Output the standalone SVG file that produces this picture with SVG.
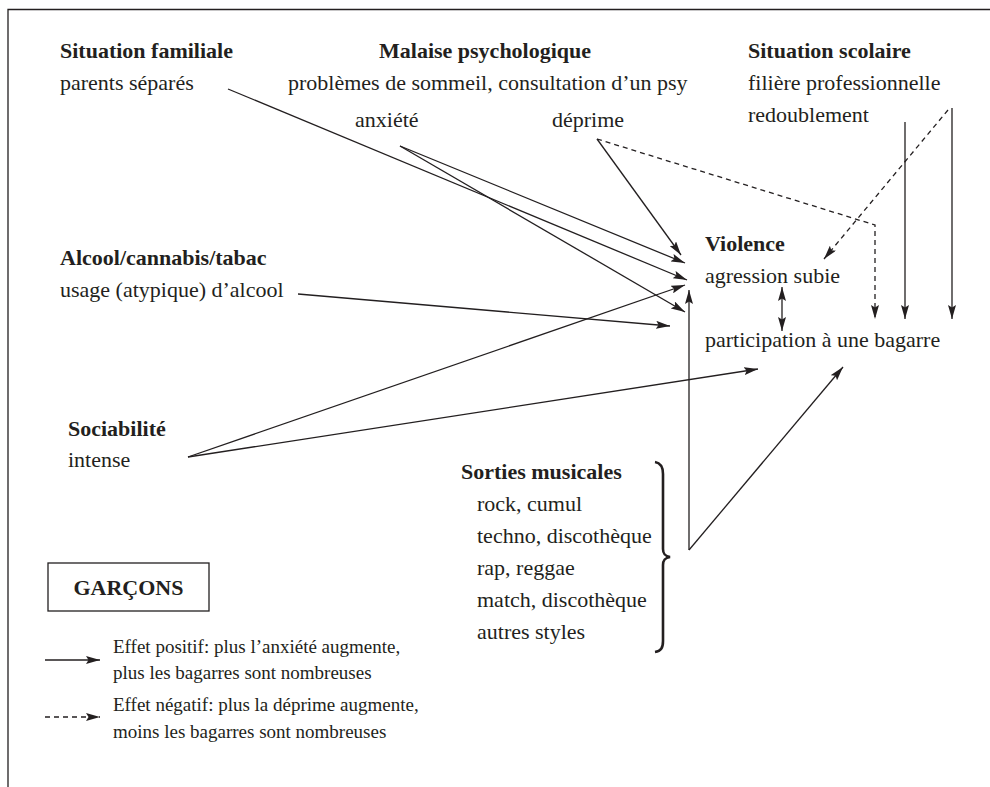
<svg xmlns="http://www.w3.org/2000/svg" width="990" height="787" viewBox="0 0 990 787">
<style>
text{font-size:22px;fill:#231f20}
.b{font-weight:bold}
.s{font-size:19px}
.ln{fill:none;stroke:#231f20;stroke-width:1.3}
.d{stroke-dasharray:5 4}
.ah{marker-end:url(#arr)}
</style>
<defs>
<marker id="arr" viewBox="0 0 14 8" refX="14" refY="4" markerWidth="14" markerHeight="8" markerUnits="userSpaceOnUse" orient="auto-start-reverse">
<path d="M0,0 L14,4 L0,8 L2.5,4 z" fill="#231f20"/>
</marker>
</defs>
<rect width="990" height="787" fill="#fff"/>
<g id="frame"><path class="ln" d="M8,787 L8,9.5 L990,9.5"/></g>

<g font-family="Liberation Serif, DejaVu Serif, serif">
<g id="familiale">
<text class="b" x="60" y="58">Situation familiale</text>
<text x="60" y="90">parents séparés</text>
</g>
<g id="malaise">
<text class="b" x="379" y="58">Malaise psychologique</text>
<text x="288" y="90">problèmes de sommeil, consultation d’un psy</text>
<text x="355" y="127">anxiété</text>
<text x="552" y="127">déprime</text>
</g>
<g id="scolaire">
<text class="b" x="748" y="58">Situation scolaire</text>
<text x="748" y="90">filière professionnelle</text>
<text x="748" y="122">redoublement</text>
</g>
<g id="alcool">
<text class="b" x="60" y="265">Alcool/cannabis/tabac</text>
<text x="60" y="297">usage (atypique) d’alcool</text>
</g>
<g id="sociabilite">
<text class="b" x="68" y="436">Sociabilité</text>
<text x="68" y="467">intense</text>
</g>
<g id="violence">
<text class="b" x="705" y="251">Violence</text>
<text x="705" y="283">agression subie</text>
<text x="705" y="347">participation à une bagarre</text>
</g>
<g id="sorties">
<text class="b" x="461" y="479">Sorties musicales</text>
<text x="477" y="511">rock, cumul</text>
<text x="477" y="543">techno, discothèque</text>
<text x="477" y="575">rap, reggae</text>
<text x="477" y="607">match, discothèque</text>
<text x="477" y="639">autres styles</text>
<path d="M655,462 C661,463 663,467 663,474 L663,549 C663,554 665,556 670,557 C665,558 663,560 663,565 L663,641 C663,648 661,651 655,652" fill="none" stroke="#231f20" stroke-width="2.6"/>
</g>
<g id="legend">
<rect x="48" y="563" width="161" height="48" fill="none" stroke="#231f20" stroke-width="1.3"/>
<text class="b" x="128.5" y="595" text-anchor="middle">GARÇONS</text>
<path class="ln ah" d="M45,660 L100,660"/>
<text class="s" x="113" y="653">Effet positif: plus l’anxiété augmente,</text>
<text class="s" x="113" y="679">plus les bagarres sont nombreuses</text>
<path class="ln d ah" d="M45,717 L100,717"/>
<text class="s" x="113" y="711">Effet négatif: plus la déprime augmente,</text>
<text class="s" x="113" y="738">moins les bagarres sont nombreuses</text>
</g>
</g>

<g id="connectors">
<path class="ln ah" d="M228,89 L687,280"/>
<path class="ln ah" d="M400,146 L685,263"/>
<path class="ln ah" d="M400,146 L685,312"/>
<path class="ln ah" d="M597,139 L681,255"/>
<path class="ln ah" d="M298,294 L670,326"/>
<path class="ln ah" d="M188,457 L685,285"/>
<path class="ln ah" d="M188,457 L758,369"/>
<path class="ln ah" d="M689,550 L689,290"/>
<path class="ln ah" d="M689,550 L843,367"/>
<path class="ln ah" d="M905,122 L905,319"/>
<path class="ln ah" d="M952,108 L952,319"/>
<path class="ln ah" d="M782,287 L782,331" marker-start="url(#arr)"/>
<path class="ln d ah" d="M597,139 L875,225 L875,319"/>
<path class="ln d ah" d="M948,110 L824,259"/>
</g>
</svg>
